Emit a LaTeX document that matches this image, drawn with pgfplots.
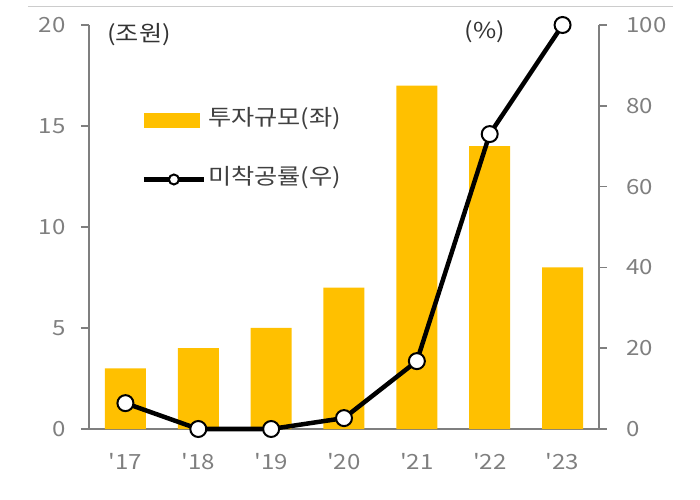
\documentclass[border=0pt]{standalone}
\usepackage{fontspec}
\setmainfont{Noto Sans CJK KR}[FakeStretch=1.15, Ligatures=TeXOff]
\usepackage{pgfplots}
\pgfplotsset{compat=1.18}
\definecolor{gold}{HTML}{FFC000}
\definecolor{tickgray}{HTML}{7F7F7F}
\definecolor{txt}{HTML}{404040}

\pgfplotsset{
  base/.style={
    scale only axis, width=510bp, height=404bp,
    xmin=-0.5, xmax=6.5,
    tick align=outside, major tick length=8bp,
    axis line style={tickgray, line width=1.5bp},
    ticklabel style={font=\fontsize{21}{25}\selectfont, text=tickgray},
    /pgf/number format/assume math mode=true,
    clip=false,
  },
  linelegend/.style={legend image code/.code={\draw[mark repeat=2, mark phase=2, ##1, mark size=5bp]
    plot coordinates {(0bp,0bp) (30bp,0bp) (60bp,0bp)};}},
  barlegend/.style={legend image code/.code={\fill[gold] (0bp,-7bp) rectangle (55bp,7bp);}},
}

\begin{document}
\begin{tikzpicture}
\useasboundingbox (-89bp,-71bp) rectangle (611bp,429bp);
\draw[black!20, line width=1bp] (-61bp,422bp) -- (584bp,422bp);

% investment (left axis)
\begin{axis}[base,
  ymin=0, ymax=20,
  axis y line*=left, axis x line*=bottom,
  ytick={0,5,10,15,20},
  y tick style={tickgray, line width=1.5bp},
  xtick={0,...,6},
  xticklabels={'17,'18,'19,'20,'21,'22,'23},
  x tick style={draw=none},
  yticklabel style={xshift=-12bp},
  xticklabel style={yshift=-13bp},
]
\addplot[ybar, bar width=41bp, fill=gold, draw=none] coordinates {
  (0,3) (1,4) (2,5) (3,7) (4,17) (5,14) (6,8)
};
\end{axis}

% unstarted ratio (right axis)
\begin{axis}[base,
  ymin=0, ymax=100,
  axis y line*=right, axis x line=none,
  ytick={0,20,40,60,80,100},
  y tick style={tickgray, line width=1.5bp},
  yticklabel style={xshift=16bp},
  legend style={draw=none, fill=none, at={(0.097,0.80)}, anchor=north west,
    font=\fontsize{22}{26}\selectfont, text=txt, row sep=34bp,
    nodes={inner sep=2bp, text height=16bp, text depth=5bp}},
  legend cell align=left,
]
\addlegendimage{barlegend}
\addlegendentry{투자규모(좌)}
\addplot[black, line width=4.5bp, mark=*, mark size=8bp,
  mark options={fill=white, draw=black, line width=2bp}, linelegend]
  coordinates {
  (0,6.4) (1,0) (2,0) (3,2.7) (4,16.8) (5,73) (6,100)
};
\addlegendentry{미착공률(우)}
\end{axis}

\node[text=black!80, font=\fontsize{22}{26}\selectfont] at (50bp,394bp) {(조원)};
\node[text=black!80, font=\fontsize{22}{26}\selectfont] at (396bp,397bp) {(\%)};
\end{tikzpicture}
\end{document}
